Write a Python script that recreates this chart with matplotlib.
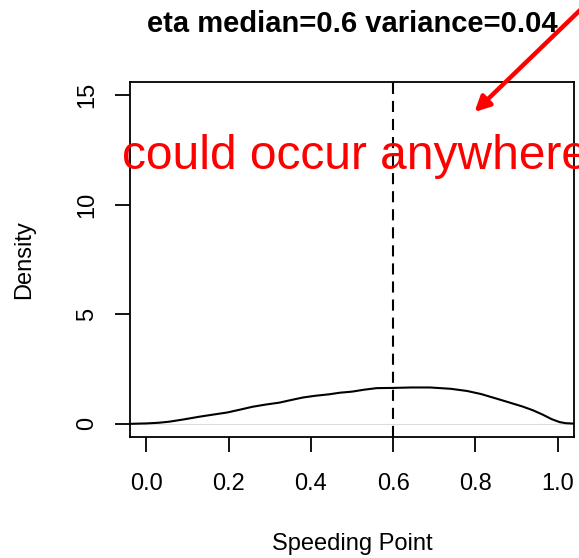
import numpy as np
import matplotlib
matplotlib.use("Agg")
import matplotlib.pyplot as plt

plt.rcParams['font.family'] = ['Liberation Sans', 'DejaVu Sans']
plt.rcParams['lines.scale_dashes'] = False

# density estimate
speed_x = [-0.04, 0.0, 0.03, 0.056, 0.09, 0.13, 0.165, 0.197, 0.228, 0.258,
           0.29, 0.324, 0.35, 0.38, 0.41, 0.445, 0.47, 0.50, 0.53, 0.56,
           0.60, 0.645, 0.69, 0.74, 0.78, 0.814, 0.85, 0.88, 0.915, 0.94,
           0.964, 0.985, 1.005, 1.02, 1.04]
dens_y = [0.0, 0.02, 0.05, 0.1, 0.2, 0.33, 0.43, 0.52, 0.65, 0.78,
          0.88, 0.97, 1.08, 1.2, 1.28, 1.35, 1.42, 1.47, 1.56, 1.63,
          1.64, 1.66, 1.66, 1.6, 1.5, 1.36, 1.16, 0.99, 0.79, 0.62,
          0.42, 0.22, 0.08, 0.03, 0.01]
median = 0.6
xticks = [0.0, 0.2, 0.4, 0.6, 0.8, 1.0]
yticks = [0, 5, 10, 15]

W, H = 579, 558
fig = plt.figure(figsize=(W / 100, H / 100), dpi=100)
ax = fig.add_axes([130 / W, 1 - 437 / H, 444 / W, 355 / H])

ax.axhline(0, color='#dddddd', lw=0.8)
ax.plot(speed_x, dens_y, color='black', lw=1.5)
ax.axvline(median, color='black', lw=1.5, ls=(0, (8, 5)))

ax.set_xlim(-0.04, 1.04)
ax.set_ylim(-0.6, 15.6)
ax.set_xticks(xticks)
ax.set_xticklabels(["%.1f" % v for v in xticks])
ax.set_yticks(yticks)
ax.tick_params(direction='out', length=11, width=1.3, labelsize=17, colors='black')
ax.tick_params(axis='x', pad=15)
ax.tick_params(axis='y', pad=12)
plt.setp(ax.get_yticklabels(), rotation=90, va='center')
for sp in ax.spines.values():
    sp.set_linewidth(1.3)

ax.set_xlabel("Speeding Point", fontsize=17)
ax.xaxis.set_label_coords(0.5, -0.27)
ax.set_ylabel("Density", fontsize=17)
ax.yaxis.set_label_coords(-0.214, 0.5)

fig.text(352 / W, 1 - 32 / H, "eta median=0.6 variance=0.04", ha='center',
         va='baseline', fontsize=21, fontweight='bold')

ax.text(-0.06, 11.65, "could occur anywhere", color='red', fontsize=34.5,
        ha='left', va='baseline', clip_on=False)
ax.annotate("", xy=(0.798, 14.23), xytext=(1.10, 19.7), xycoords='data',
            annotation_clip=False,
            arrowprops=dict(arrowstyle='-|>,head_length=0.9,head_width=0.45',
                            color='red', lw=3.2, shrinkA=0, shrinkB=0))

fig.savefig("out.png", dpi=100)
